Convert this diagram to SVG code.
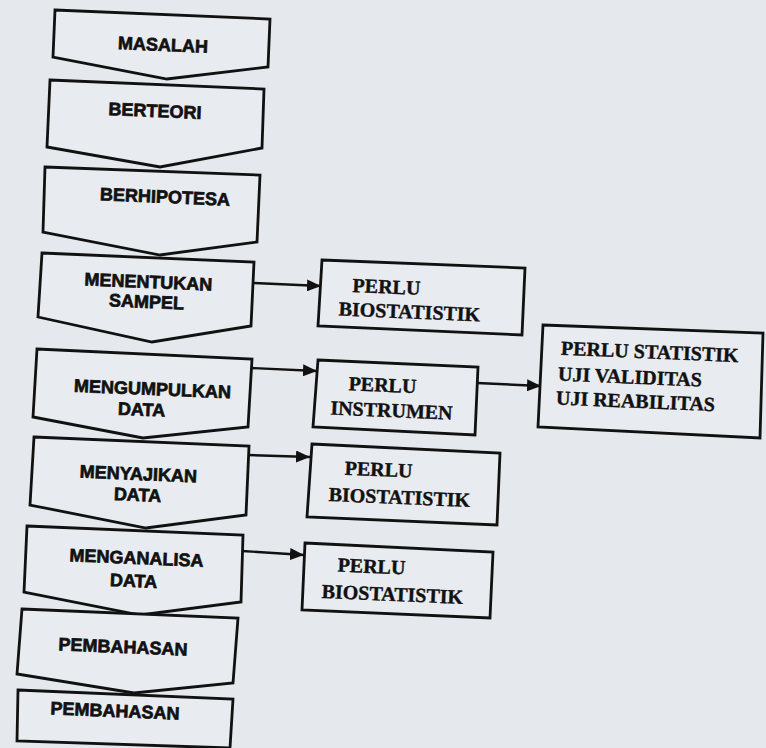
<svg xmlns="http://www.w3.org/2000/svg" width="766" height="748" viewBox="0 0 766 748">
<defs>
<style>
.bg{fill:#e5e8ed}
.sh{fill:#e8ebef;stroke:#111;stroke-width:2.8;stroke-linejoin:miter}
.ln{stroke:#111;stroke-width:2.4;fill:none}
.st{font-family:"Liberation Sans",Arial,sans-serif;font-weight:bold;font-size:18px;fill:#111;stroke:#111;stroke-width:0.7;text-anchor:middle}
.rt{font-family:"Liberation Serif","Times New Roman",serif;font-weight:bold;font-size:20px;fill:#111;stroke:#111;stroke-width:0.4;text-anchor:middle}
.rl{font-family:"Liberation Serif","Times New Roman",serif;font-weight:bold;font-size:20px;fill:#111;stroke:#111;stroke-width:0.4;text-anchor:start}
</style>
<marker id="ah" viewBox="0 0 14 12" refX="14" refY="6" markerWidth="14" markerHeight="12" markerUnits="userSpaceOnUse" orient="auto">
<path d="M0,0 L14,6 L0,12 Z" fill="#111"/>
</marker>
</defs>
<rect class="bg" x="0" y="0" width="766" height="748"/>

<g id="connectors">
<line class="ln" x1="254" y1="283" x2="321" y2="286" marker-end="url(#ah)"/>
<line class="ln" x1="251" y1="368" x2="317" y2="371" marker-end="url(#ah)"/>
<line class="ln" x1="477" y1="383" x2="541" y2="386" marker-end="url(#ah)"/>
<line class="ln" x1="248" y1="455" x2="310" y2="457" marker-end="url(#ah)"/>
<line class="ln" x1="242" y1="551" x2="304" y2="555" marker-end="url(#ah)"/>
</g>

<g id="n1">
<polygon class="sh" points="55,10 270,19 268,67 167,79 53,57"/>
<text class="st" x="163" y="51" transform="rotate(2.4 163 45)">MASALAH</text>
</g>
<g id="n2">
<polygon class="sh" points="50,80 264,89 262,148 160,167 47,147"/>
<text class="st" x="155" y="117" transform="rotate(2.4 155 111)">BERTEORI</text>
</g>
<g id="n3">
<polygon class="sh" points="45,167 260,175 257,242 160,255 43,232"/>
<text class="st" x="165" y="203" transform="rotate(2.4 165 197)">BERHIPOTESA</text>
</g>
<g id="n4">
<polygon class="sh" points="42,253 254,262 251,326 152,342 38,317"/>
<text class="st" transform="rotate(2.4 148 291)"><tspan x="148" y="288">MENENTUKAN</tspan><tspan x="147" y="308">SAMPEL</tspan></text>
</g>
<g id="n5">
<polygon class="sh" points="37,349 252,359 248,427 143,438 33,417"/>
<text class="st" transform="rotate(2.4 150 400)"><tspan x="152" y="395">MENGUMPULKAN</tspan><tspan x="142" y="416">DATA</tspan></text>
</g>
<g id="n6">
<polygon class="sh" points="34,437 249,446 246,515 146,528 30,505"/>
<text class="st" transform="rotate(2.4 138 484)"><tspan x="138" y="480">MENYAJIKAN</tspan><tspan x="138" y="501">DATA</tspan></text>
</g>
<g id="n7">
<polygon class="sh" points="27,526 243,535 241,602 140,615 24,592"/>
<text class="st" transform="rotate(2.4 135 570)"><tspan x="136" y="564">MENGANALISA</tspan><tspan x="134" y="587">DATA</tspan></text>
</g>
<g id="n8">
<polygon class="sh" points="22,609 238,618 233,683 134,693 17,674"/>
<text class="st" x="123" y="653" transform="rotate(2.4 123 647)">PEMBAHASAN</text>
</g>
<g id="n9">
<polygon class="sh" points="18,690 233,699 230,748 17,741"/>
<text class="st" x="115" y="717" transform="rotate(2.4 115 711)">PEMBAHASAN</text>
</g>

<g id="r1">
<polygon class="sh" points="322,260 525,268 522,335 318,326"/>
<text class="rt" transform="rotate(2.4 400 299)"><tspan x="386" y="294">PERLU</tspan><tspan x="410" y="318">BIOSTATISTIK</tspan></text>
</g>
<g id="r2">
<polygon class="sh" points="318,360 478,367 475,435 313,427"/>
<text class="rt" transform="rotate(2.4 390 398)"><tspan x="382" y="392">PERLU</tspan><tspan x="392" y="417">INSTRUMEN</tspan></text>
</g>
<g id="r3">
<polygon class="sh" points="543,325 763,333 760,438 538,427"/>
<text class="rl" transform="rotate(2.4 640 376)"><tspan x="560" y="358">PERLU STATISTIK</tspan><tspan x="558" y="384">UJI VALIDITAS</tspan><tspan x="557" y="408">UJI REABILITAS</tspan></text>
</g>
<g id="r4">
<polygon class="sh" points="312,444 500,453 497,525 307,517"/>
<text class="rt" transform="rotate(2.4 400 484)"><tspan x="378" y="477">PERLU</tspan><tspan x="400" y="504">BIOSTATISTIK</tspan></text>
</g>
<g id="r5">
<polygon class="sh" points="305,543 493,552 490,618 302,610"/>
<text class="rt" transform="rotate(2.4 395 580)"><tspan x="371" y="574">PERLU</tspan><tspan x="393" y="601">BIOSTATISTIK</tspan></text>
</g>
</svg>
